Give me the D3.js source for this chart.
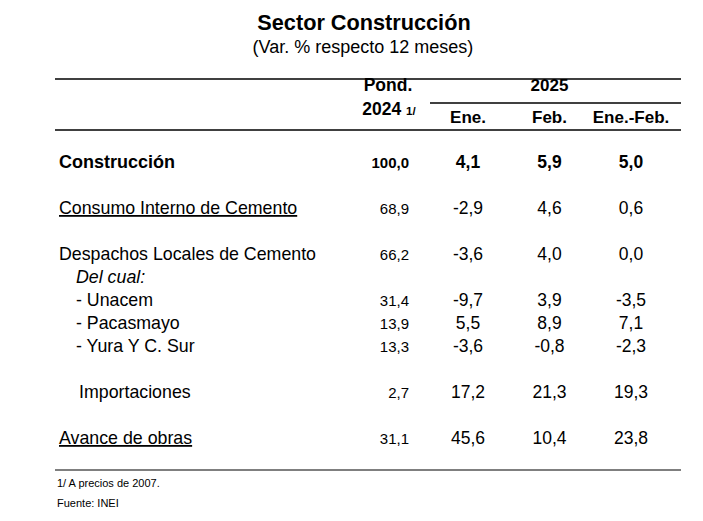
<html>
<head>
<meta charset="utf-8">
<script src="https://d3js.org/d3.v7.min.js"></script>
<style>
body { margin: 0; background: #fff; }
text { font-family: "Liberation Sans", Arial, sans-serif; fill: #000; }
</style>
</head>
<body>
<div id="stuff"><svg width="703" height="521"></svg></div>
<script>
// table content; "" rows are blank spacer rows
var rowLabels = ["Construcción", "", "Consumo Interno de Cemento", "", "Despachos Locales de Cemento",
	"Del cual:", "- Unacem", "- Pacasmayo", "- Yura Y C. Sur", "", "Importaciones", "", "Avance de obras"];
var pond   = ["100,0", null, "68,9", null, "66,2", null, "31,4", "13,9", "13,3", null, "2,7", null, "31,1"];
var ene    = ["4,1", null, "-2,9", null, "-3,6", null, "-9,7", "5,5", "-3,6", null, "17,2", null, "45,6"];
var feb    = ["5,9", null, "4,6", null, "4,0", null, "3,9", "8,9", "-0,8", null, "21,3", null, "10,4"];
var eneFeb = ["5,0", null, "0,6", null, "0,0", null, "-3,5", "7,1", "-2,3", null, "19,3", null, "23,8"];
var monthCols = ["Ene.", "Feb.", "Ene.-Feb."];
var yearLabel = "2025";
var footnotes = ["1/ A precios de 2007.", "Fuente: INEI"];

var svg = d3.select("#stuff").select("svg");
var left = 55, right = 681;

// title
svg.append("text").attr("x", 364).attr("y", 30).attr("text-anchor", "middle")
	.style("font-size", "21.7px").style("font-weight", "bold").text("Sector Construcción");
svg.append("text").attr("x", 363).attr("y", 53).attr("text-anchor", "middle")
	.style("font-size", "18px").text("(Var. % respecto 12 meses)");

// rules
function hline(x1, x2, y, w) {
	svg.append("line").attr("x1", x1).attr("x2", x2).attr("y1", y).attr("y2", y)
		.attr("stroke", "#000").attr("stroke-width", w);
}
hline(left, right, 79, 1.5);
hline(left, right, 130, 1.5);
hline(left, right, 470, 1.2);

// scales: month columns by centre, rows by index
var x = d3.scalePoint().domain(monthCols).range([468, 631]);
var pondRight = 409;
var y = d3.scalePoint().domain(d3.range(rowLabels.length)).range([162, 438]);

// header
svg.append("text").attr("x", 388).attr("y", 91).attr("text-anchor", "middle")
	.style("font-size", "17.5px").style("font-weight", "bold").text("Pond.");
var h2 = svg.append("text").attr("x", 389).attr("y", 115).attr("text-anchor", "middle")
	.style("font-size", "17.5px").style("font-weight", "bold");
h2.append("tspan").text("2024 ");
h2.append("tspan").style("font-size", "11.5px").text("1/");
svg.append("text").attr("x", x("Feb.")).attr("y", 91).attr("text-anchor", "middle")
	.style("font-size", "17px").style("font-weight", "bold").text(yearLabel);
hline(430, right, 103, 1.5);
monthCols.forEach(function (k) {
	svg.append("text").attr("x", x(k)).attr("y", 123).attr("text-anchor", "middle")
		.style("font-size", "17px").style("font-weight", "bold").text(k);
});

// rows
var cols = [ene, feb, eneFeb];
rowLabels.forEach(function (lab, i) {
	if (lab === "") return;
	var yy = y(i) + 6;
	var bold = i === 0;
	var underline = lab === "Consumo Interno de Cemento" || lab === "Avance de obras";
	var indent = lab.charAt(0) === "-" || lab === "Del cual:" ? 21 : (lab === "Importaciones" ? 24 : 4);
	var t = svg.append("text").attr("x", left + indent).attr("y", yy)
		.style("font-size", bold ? "18px" : "17.8px").text(lab);
	if (bold) t.style("font-weight", "bold");
	if (lab === "Del cual:") t.style("font-style", "italic");
	if (underline) t.style("text-decoration", "underline");

	var p = svg.append("text").attr("x", pondRight).attr("y", yy).attr("text-anchor", "end")
		.style("font-size", "15px").text(pond[i]);
	if (bold) p.style("font-weight", "bold");
	cols.forEach(function (c, j) {
		if (c[i] == null) return;
		var v = svg.append("text").attr("x", x(monthCols[j])).attr("y", yy)
			.attr("text-anchor", "middle").style("font-size", "17.5px").text(c[i]);
		if (bold) v.style("font-weight", "bold");
	});
});

// footnotes
footnotes.forEach(function (f, i) {
	svg.append("text").attr("x", 57).attr("y", 487 + i * 20).style("font-size", "11px").text(f);
});
</script>
</body>
</html>
